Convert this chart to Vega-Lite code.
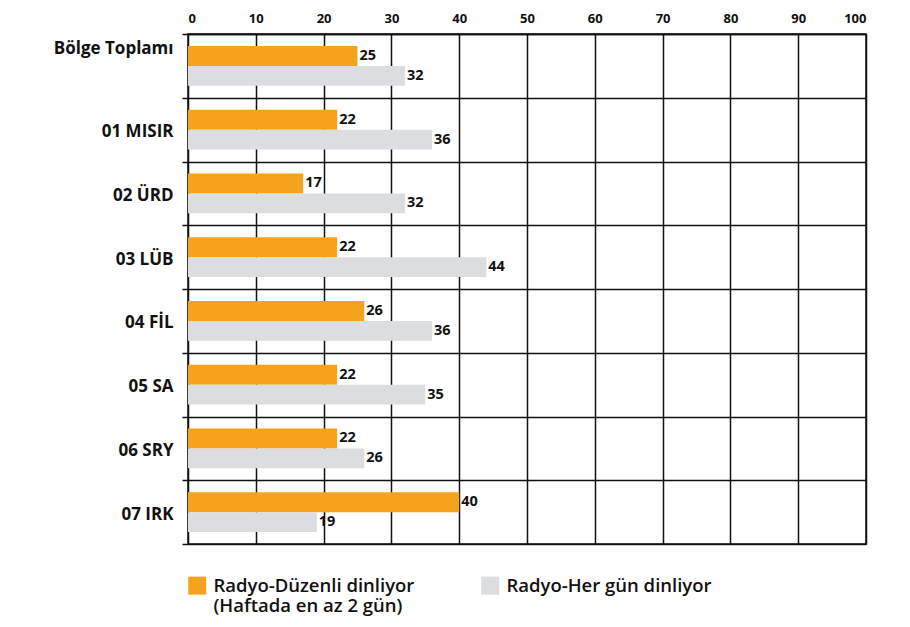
{
  "$schema": "https://vega.github.io/schema/vega-lite/v6.json",
  "autosize": {"type": "none"},
  "width": 678,
  "height": 510,
  "padding": {"left": 188, "top": 34, "right": 44, "bottom": 83},
  "background": "white",
  "data": {
    "values": [
      {"region": "Bölge Toplamı", "series": "Radyo-Düzenli dinliyor (Haftada en az 2 gün)", "value": 25},
      {"region": "Bölge Toplamı", "series": "Radyo-Her gün dinliyor", "value": 32},
      {"region": "01 MISIR", "series": "Radyo-Düzenli dinliyor (Haftada en az 2 gün)", "value": 22},
      {"region": "01 MISIR", "series": "Radyo-Her gün dinliyor", "value": 36},
      {"region": "02 ÜRD", "series": "Radyo-Düzenli dinliyor (Haftada en az 2 gün)", "value": 17},
      {"region": "02 ÜRD", "series": "Radyo-Her gün dinliyor", "value": 32},
      {"region": "03 LÜB", "series": "Radyo-Düzenli dinliyor (Haftada en az 2 gün)", "value": 22},
      {"region": "03 LÜB", "series": "Radyo-Her gün dinliyor", "value": 44},
      {"region": "04 FİL", "series": "Radyo-Düzenli dinliyor (Haftada en az 2 gün)", "value": 26},
      {"region": "04 FİL", "series": "Radyo-Her gün dinliyor", "value": 36},
      {"region": "05 SA", "series": "Radyo-Düzenli dinliyor (Haftada en az 2 gün)", "value": 22},
      {"region": "05 SA", "series": "Radyo-Her gün dinliyor", "value": 35},
      {"region": "06 SRY", "series": "Radyo-Düzenli dinliyor (Haftada en az 2 gün)", "value": 22},
      {"region": "06 SRY", "series": "Radyo-Her gün dinliyor", "value": 26},
      {"region": "07 IRK", "series": "Radyo-Düzenli dinliyor (Haftada en az 2 gün)", "value": 40},
      {"region": "07 IRK", "series": "Radyo-Her gün dinliyor", "value": 19}
    ]
  },
  "encoding": {
    "y": {
      "field": "region", "type": "nominal", "sort": null, "title": null,
      "scale": {"paddingInner": 0, "paddingOuter": 0},
      "axis": {
        "tickBand": "extent", "grid": true, "gridColor": "#111111", "gridWidth": 1.5, "gridOpacity": 1,
        "tickColor": "#111111", "tickWidth": 1.5, "tickSize": 6, "domain": false,
        "labelFont": "Open Sans", "labelFontWeight": "bold", "labelFontSize": 17, "labelColor": "#111111",
        "labelPadding": 9,
        "labelOffset": {"condition": {"test": "datum.value == 'Bölge Toplamı'", "value": -17}, "value": 2}
      }
    },
    "yOffset": {
      "field": "series", "type": "nominal", "sort": null,
      "scale": {"paddingInner": 0, "paddingOuter": 0.6}
    },
    "x": {
      "field": "value", "type": "quantitative", "title": null,
      "scale": {"domain": [0, 100], "nice": false},
      "axis": {
        "orient": "top", "values": [0, 10, 20, 30, 40, 50, 60, 70, 80, 90, 100],
        "grid": true, "gridColor": "#111111", "gridWidth": 1.5, "gridOpacity": 1,
        "ticks": false, "domain": true, "domainColor": "#111111", "domainWidth": 1.5,
        "labelFont": "Open Sans", "labelFontWeight": "bold", "labelFontSize": 13, "labelColor": "#111111",
        "labelPadding": 9
      }
    }
  },
  "layer": [
    {
      "mark": {"type": "bar", "cornerRadius": 0},
      "encoding": {
        "color": {
          "field": "series", "type": "nominal", "sort": null,
          "scale": {"range": ["#F5A31D", "#DCDDDF"]},
          "legend": {
            "title": null, "orient": "none", "legendX": 0, "legendY": 542,
            "direction": "horizontal", "columns": 2, "columnPadding": 66,
            "symbolType": "square", "symbolSize": 324, "symbolStrokeWidth": 0, "symbolOpacity": 1,
            "labelFont": "Open Sans", "labelFontWeight": 600, "labelFontSize": 18.5, "labelColor": "#111111",
            "labelOffset": 7, "labelLimit": 400, "labelBaseline": "middle",
            "labelExpr": "indexof(datum.label,'(')>0 ? [substring(datum.label,0,indexof(datum.label,'(')-1), substring(datum.label,indexof(datum.label,'('))] : [datum.label, ' ']"
          }
        }
      }
    },
    {
      "mark": {"type": "text", "align": "left", "baseline": "middle", "dx": 2, "font": "Open Sans", "fontWeight": "bold", "fontSize": 14.5, "color": "#111111"},
      "encoding": {"text": {"field": "value", "type": "quantitative"}}
    }
  ],
  "config": {"view": {"stroke": "#111111", "strokeWidth": 1.5}}
}
